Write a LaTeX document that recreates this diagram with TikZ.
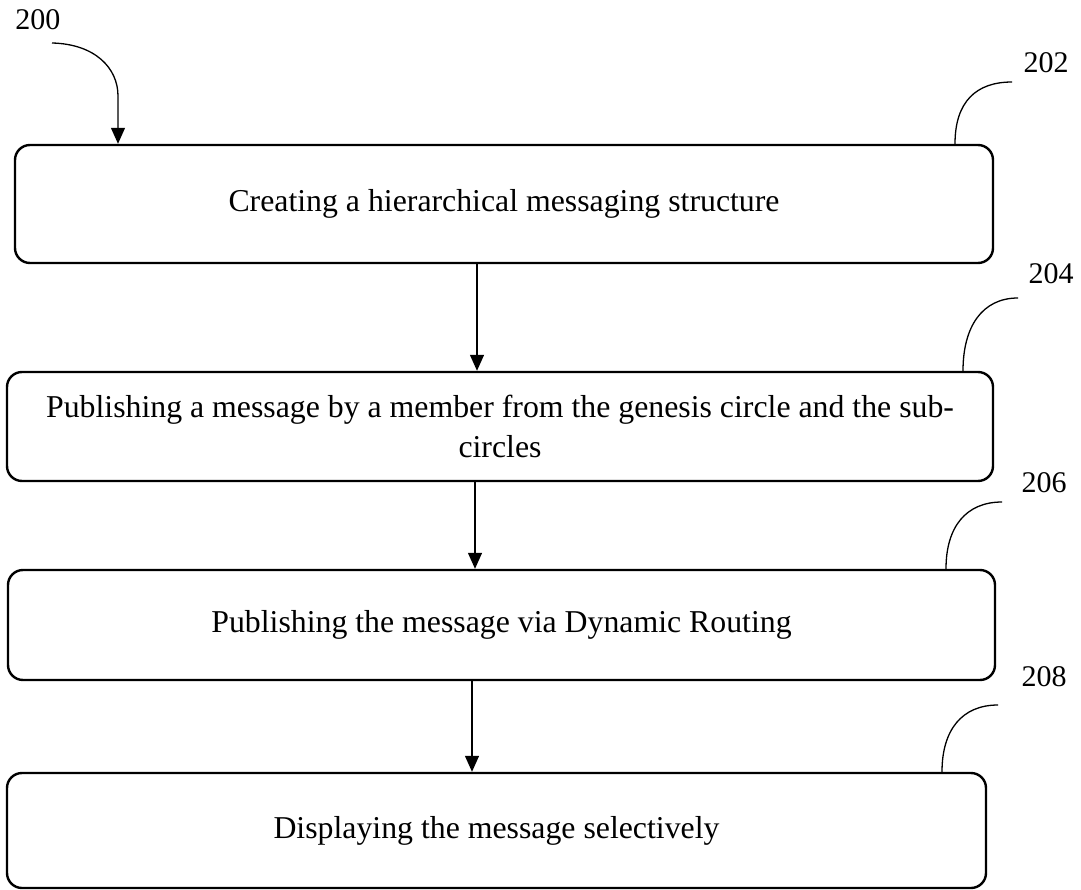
\documentclass[tikz,border=0pt]{standalone}
\usepackage{fontspec}
\setmainfont{Liberation Serif}
\usetikzlibrary{arrows.meta}
\begin{document}
\begin{tikzpicture}[x=1pt,y=-1pt,
  stepbox/.style={draw=black,line width=2.4pt,rounded corners=15pt,
    font=\fontsize{31.8}{40}\selectfont,align=center,inner sep=0pt},
  flow/.style={line width=1.3pt,-{Triangle[length=16pt,width=14pt]}},
  leader/.style={line width=1.3pt},
  refnum/.style={font=\fontsize{30}{30}\selectfont,inner sep=0pt}]
\useasboundingbox (0,0) rectangle (1081,890);

% process steps
\node[stepbox,minimum width=978pt,minimum height=118pt] (b1) at (504,204)
  {Creating a hierarchical messaging structure};
\node[stepbox,minimum width=986pt,minimum height=109pt] (b2) at (500,426.5)
  {Publishing a message by a member from the genesis circle and the sub-\\circles};
\node[stepbox,minimum width=987pt,minimum height=110pt] (b3) at (501.5,625)
  {Publishing the message via Dynamic Routing};
\node[stepbox,minimum width=979pt,minimum height=115pt] (b4) at (496.5,830.5)
  {Displaying the message selectively};

% reference numerals
\node[refnum] (n200) at (38,20) {200};
\node[refnum] (n202) at (1046,63) {202};
\node[refnum] (n204) at (1051,274) {204};
\node[refnum] (n206) at (1044,483) {206};
\node[refnum] (n208) at (1044,677) {208};

% free ends of the leader lines
\coordinate (s200) at (52,43);
\coordinate (e202) at (1012,82);
\coordinate (e204) at (1018,298);
\coordinate (e206) at (1002,502);
\coordinate (e208) at (998,705);

% flow arrow columns
\coordinate (c1) at (477,0);
\coordinate (c2) at (475,0);
\coordinate (c3) at (472,0);

% entry arrow
\draw[flow] (s200) .. controls (95,44) and (118,68) .. (118,96) -- (b1.north -| 118,0);

% arrows between steps
\draw[flow] (b1.south -| c1) -- (b2.north -| c1);
\draw[flow] (b2.south -| c2) -- (b3.north -| c2);
\draw[flow] (b3.south -| c3) -- (b4.north -| c3);

% leader lines to the numerals
\draw[leader] ([xshift=451pt]b1.north) .. controls +(0,-42) and +(-36,0) .. (e202);
\draw[leader] ([xshift=463pt]b2.north) .. controls +(0,-44) and +(-36,0) .. (e204);
\draw[leader] ([xshift=444.5pt]b3.north) .. controls +(0,-42) and +(-36,0) .. (e206);
\draw[leader] ([xshift=445.5pt]b4.north) .. controls +(0,-42) and +(-36,0) .. (e208);
\end{tikzpicture}
\end{document}
